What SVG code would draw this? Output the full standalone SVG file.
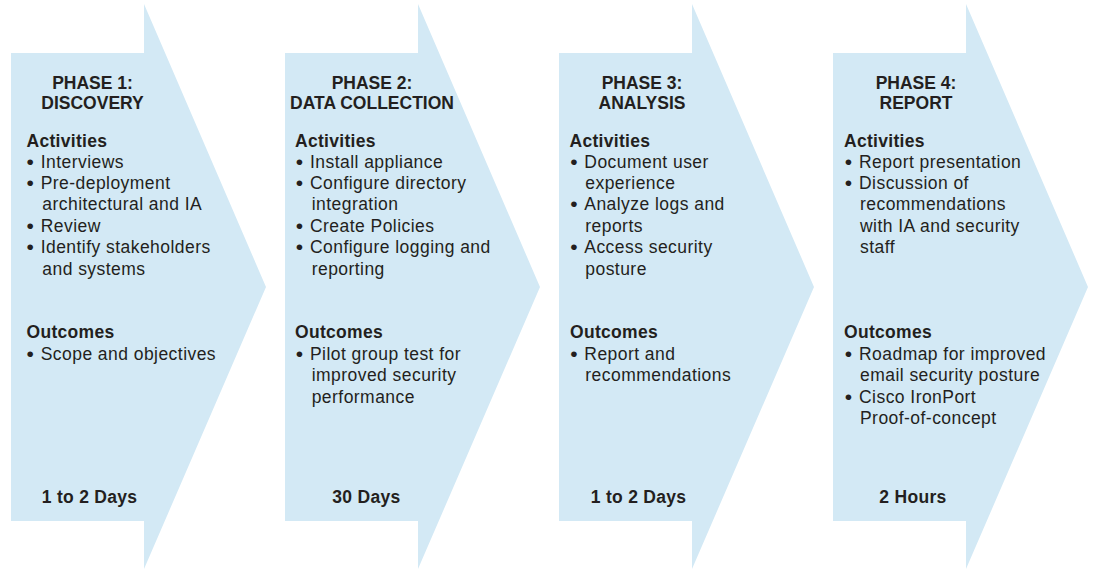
<svg xmlns="http://www.w3.org/2000/svg" width="1095" height="569" viewBox="0 0 1095 569">
<style>
.arrow{fill:#d3e9f5}
text{font-family:"Liberation Sans",Arial,sans-serif;fill:#231f20}
.t{font-size:17.5px;font-weight:bold;text-anchor:middle}
.h{font-size:17.5px;font-weight:bold;letter-spacing:0.3px}
.b{font-size:17.5px;letter-spacing:0.45px}
.bl{font-size:21px;letter-spacing:0}
.d{font-size:17.5px;font-weight:bold;letter-spacing:0.3px}
</style>
<defs>
<polygon id="arr" points="0,53 133,53 133,4 255,287 133,569 133,521 0,521"/>
</defs>
<g id="connectors"/>
<g id="phase1">
<use href="#arr" x="11" class="arrow"/>
<text class="t" x="92.5" y="88.5">PHASE 1:</text>
<text class="t" x="92.5" y="109">DISCOVERY</text>
<text class="h" x="26.5" y="146.7">Activities</text>
<text class="b"><tspan class="bl" x="26.5" y="168.5">•</tspan><tspan x="40.7" y="167.5">Interviews</tspan><tspan class="bl" x="26.5" y="189.9">•</tspan><tspan x="40.7" y="188.9">Pre-deployment</tspan><tspan x="42.3" y="210.3">architectural and IA</tspan><tspan class="bl" x="26.5" y="232.7">•</tspan><tspan x="40.7" y="231.7">Review</tspan><tspan class="bl" x="26.5" y="254.1">•</tspan><tspan x="40.7" y="253.1">Identify stakeholders</tspan><tspan x="42.3" y="274.5">and systems</tspan></text>
<text class="h" x="26.5" y="338.3">Outcomes</text>
<text class="b"><tspan class="bl" x="26.5" y="361">•</tspan><tspan x="40.7" y="360">Scope and objectives</tspan></text>
<text class="d" x="41.7" y="503">1 to 2 Days</text>
</g>
<g id="phase2">
<use href="#arr" x="285" class="arrow"/>
<text class="t" x="372" y="88.5">PHASE 2:</text>
<text class="t" x="372" y="109">DATA COLLECTION</text>
<text class="h" x="295" y="146.7">Activities</text>
<text class="b"><tspan class="bl" x="295.8" y="168.5">•</tspan><tspan x="310" y="167.5">Install appliance</tspan><tspan class="bl" x="295.8" y="189.9">•</tspan><tspan x="310" y="188.9">Configure directory</tspan><tspan x="311.7" y="210.3">integration</tspan><tspan class="bl" x="295.8" y="232.7">•</tspan><tspan x="310" y="231.7">Create Policies</tspan><tspan class="bl" x="295.8" y="254.1">•</tspan><tspan x="310" y="253.1">Configure logging and</tspan><tspan x="311.7" y="274.5">reporting</tspan></text>
<text class="h" x="295" y="338.3">Outcomes</text>
<text class="b"><tspan class="bl" x="295.8" y="361">•</tspan><tspan x="310" y="360">Pilot group test for</tspan><tspan x="311.7" y="381.4">improved security</tspan><tspan x="311.7" y="402.8">performance</tspan></text>
<text class="d" x="332.3" y="503">30 Days</text>
</g>
<g id="phase3">
<use href="#arr" x="559" class="arrow"/>
<text class="t" x="642" y="88.5">PHASE 3:</text>
<text class="t" x="642" y="109">ANALYSIS</text>
<text class="h" x="569.5" y="146.7">Activities</text>
<text class="b"><tspan class="bl" x="570.2" y="168.5">•</tspan><tspan x="584.3" y="167.5">Document user</tspan><tspan x="585.3" y="188.9">experience</tspan><tspan class="bl" x="570.2" y="211.3">•</tspan><tspan x="584.3" y="210.3">Analyze logs and</tspan><tspan x="585.3" y="231.7">reports</tspan><tspan class="bl" x="570.2" y="254.1">•</tspan><tspan x="584.3" y="253.1">Access security</tspan><tspan x="585.3" y="274.5">posture</tspan></text>
<text class="h" x="570" y="338.3">Outcomes</text>
<text class="b"><tspan class="bl" x="570.2" y="361">•</tspan><tspan x="584.3" y="360">Report and</tspan><tspan x="585.3" y="381.4">recommendations</tspan></text>
<text class="d" x="590.7" y="503">1 to 2 Days</text>
</g>
<g id="phase4">
<use href="#arr" x="833" class="arrow"/>
<text class="t" x="916" y="88.5">PHASE 4:</text>
<text class="t" x="916" y="109">REPORT</text>
<text class="h" x="844" y="146.7">Activities</text>
<text class="b"><tspan class="bl" x="844.8" y="168.5">•</tspan><tspan x="859" y="167.5">Report presentation</tspan><tspan class="bl" x="844.8" y="189.9">•</tspan><tspan x="859" y="188.9">Discussion of</tspan><tspan x="860" y="210.3">recommendations</tspan><tspan x="860" y="231.7">with IA and security</tspan><tspan x="860" y="253.1">staff</tspan></text>
<text class="h" x="844" y="338.3">Outcomes</text>
<text class="b"><tspan class="bl" x="844.8" y="361">•</tspan><tspan x="859" y="360">Roadmap for improved</tspan><tspan x="860" y="381.4">email security posture</tspan><tspan class="bl" x="844.8" y="403.8">•</tspan><tspan x="859" y="402.8">Cisco IronPort</tspan><tspan x="860" y="424.2">Proof-of-concept</tspan></text>
<text class="d" x="879.3" y="503">2 Hours</text>
</g>
</svg>
